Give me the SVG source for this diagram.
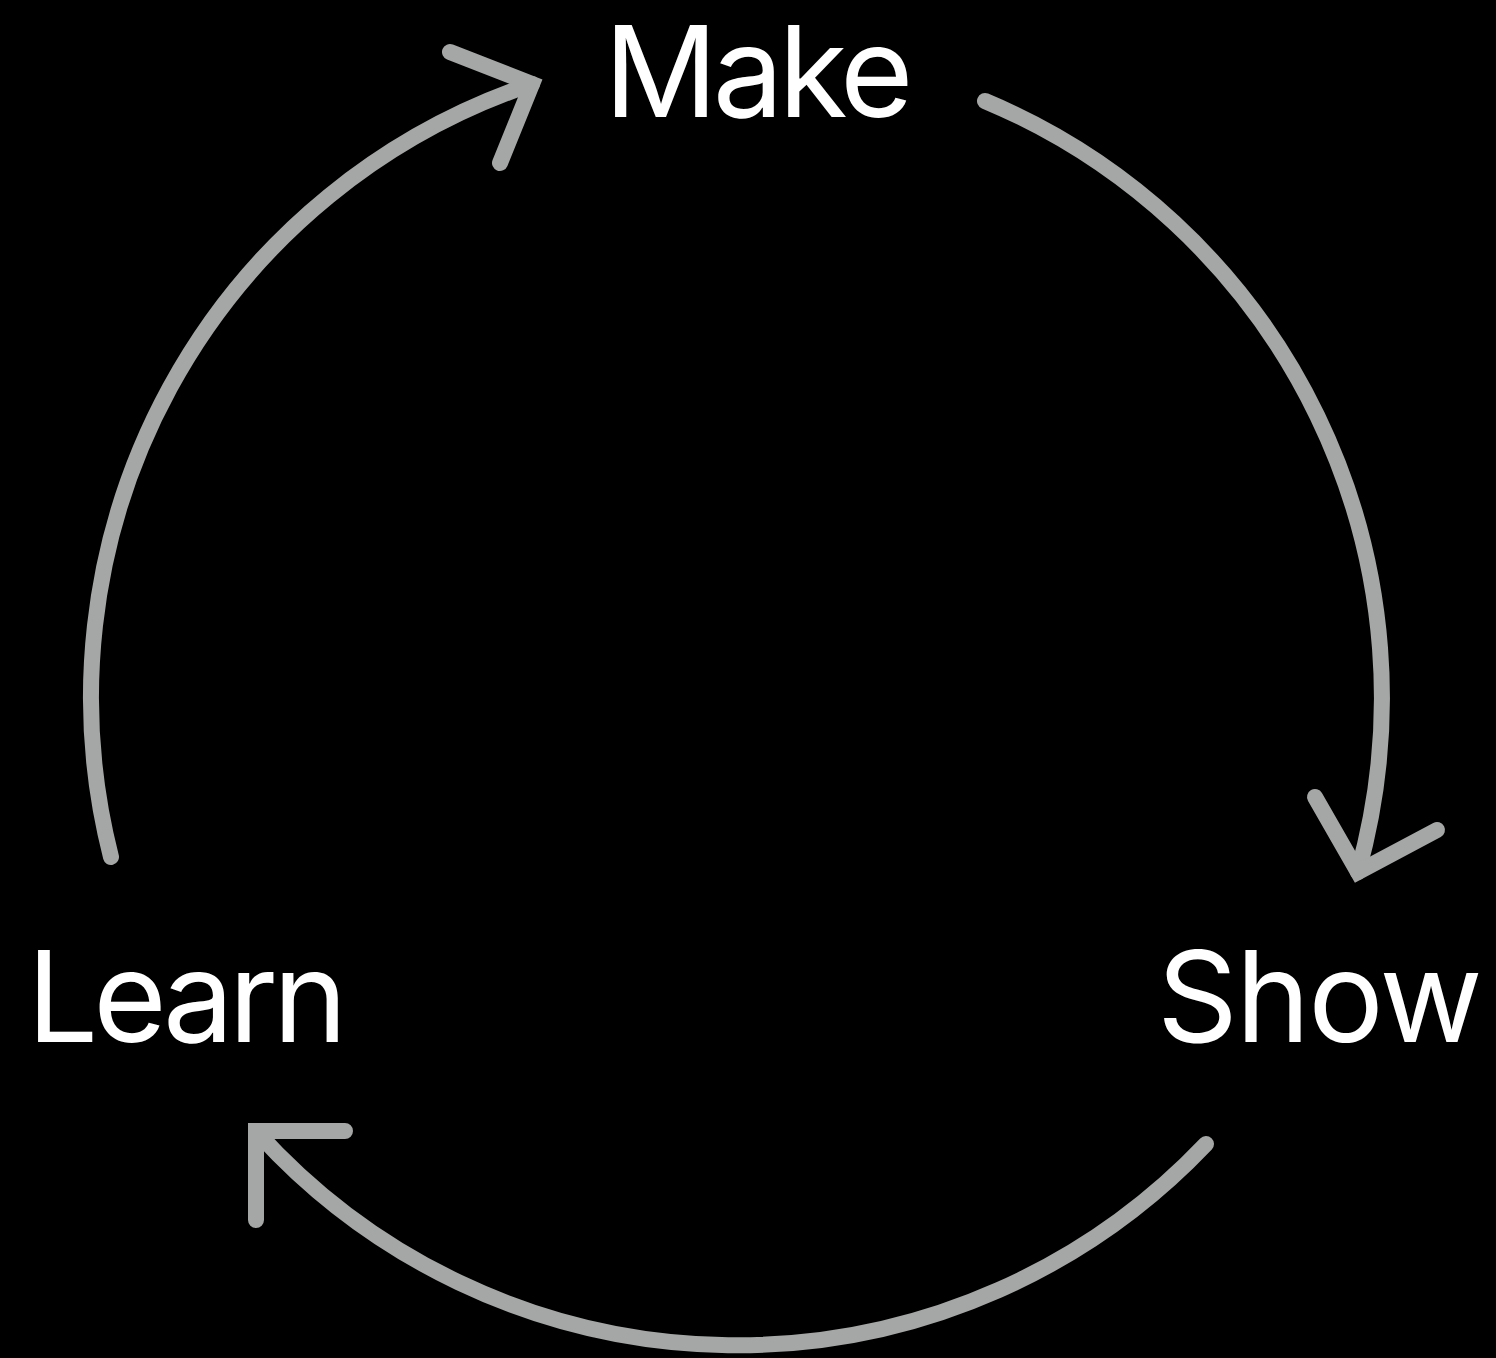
<svg xmlns="http://www.w3.org/2000/svg" width="1496" height="1358" viewBox="0 0 1496 1358">
<style>
.bg{fill:#000}
.arc{fill:none;stroke:#a5a7a6;stroke-width:16;stroke-linecap:round;stroke-linejoin:miter;stroke-miterlimit:10}
.lbl{fill:#fff;font-family:Inter,"Liberation Sans",sans-serif;font-size:126px;letter-spacing:-5px}
</style>
<rect class="bg" x="0" y="0" width="1496" height="1358"/>
<g id="connectors">
<path class="arc" d="M111,857 A647,647 0 0 1 532,84"/>
<path class="arc" d="M450,52 L532,84 L500,163"/>
<path class="arc" d="M985,101 A647,647 0 0 1 1358,872"/>
<path class="arc" d="M1315,797 L1358,872 L1437,830"/>
<path class="arc" d="M1206,1144 A647,647 0 0 1 256,1131"/>
<path class="arc" d="M345,1131 L256,1131 L256,1220"/>
</g>
<g id="node-make"><text class="lbl" x="604" y="117">Make</text></g>
<g id="node-show"><text class="lbl" x="1157" y="1042" style="letter-spacing:-2px">Show</text></g>
<g id="node-learn"><text class="lbl" x="27" y="1042">Learn</text></g>
</svg>
